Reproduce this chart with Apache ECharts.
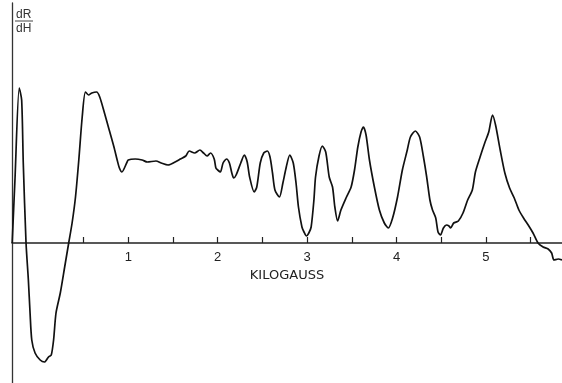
<!DOCTYPE html>
<html>
<head>
<meta charset="utf-8">
<script src="https://cdn.jsdelivr.net/npm/echarts@6/dist/echarts.min.js"></script>
<style>
    html, body { margin: 0; padding: 0; background: #fff; }
    #chart { width: 562px; height: 383px; }
</style>
</head>
<body>
<div id="chart"></div>
<script>
// field in kilogauss
var fieldKG = [
    -0.298, -0.267, -0.219, -0.192, -0.174, -0.143, -0.117, -0.098, -0.079, -0.042,
    0.015, 0.063, 0.108, 0.139, 0.165, 0.192, 0.240, 0.289, 0.334, 0.372,
    0.410, 0.447, 0.485, 0.521, 0.556, 0.593, 0.646, 0.681, 0.734, 0.787,
    0.840, 0.876, 0.901, 0.929, 0.982, 1.000, 1.078, 1.155, 1.213, 1.310,
    1.369, 1.445, 1.524, 1.583, 1.643, 1.682, 1.742, 1.801, 1.842, 1.881,
    1.920, 1.961, 1.980, 2.000, 2.030, 2.060, 2.099, 2.131, 2.158, 2.179,
    2.206, 2.258, 2.298, 2.330, 2.357, 2.408, 2.437, 2.476, 2.515, 2.555,
    2.585, 2.613, 2.640, 2.690, 2.729, 2.767, 2.806, 2.845, 2.876, 2.903,
    2.942, 2.965, 2.992, 3.019, 3.045, 3.076, 3.094, 3.133, 3.170, 3.208,
    3.247, 3.284, 3.310, 3.341, 3.378, 3.435, 3.492, 3.530, 3.567, 3.603,
    3.630, 3.659, 3.697, 3.752, 3.808, 3.863, 3.908, 3.956, 4.011, 4.065,
    4.120, 4.155, 4.210, 4.258, 4.301, 4.337, 4.373, 4.402, 4.438, 4.464,
    4.492, 4.524, 4.559, 4.586, 4.604, 4.639, 4.691, 4.743, 4.795, 4.847,
    4.882, 4.934, 4.986, 5.031, 5.073, 5.107, 5.159, 5.211, 5.264, 5.316,
    5.368, 5.420, 5.472, 5.526, 5.582, 5.639, 5.695, 5.734, 5.760, 5.808,
    5.850
];
// dR/dH, arbitrary units
var dRdH = [
    0, 6.3, 15.5, 14.3, 8.0, 0, -3.7, -7.0, -9.7, -11.0,
    -11.7, -11.9, -11.4, -11.2, -9.7, -7.0, -5.0, -2.4, 0, 2.0,
    4.6, 8.3, 12.6, 15.1, 14.8, 15.0, 15.1, 14.6, 13.0, 11.3,
    9.6, 8.3, 7.5, 7.1, 8.0, 8.3, 8.4, 8.3, 8.1, 8.2,
    8.0, 7.8, 8.1, 8.4, 8.7, 9.2, 9.0, 9.3, 9.0, 8.7,
    9.0, 8.4, 7.5, 7.3, 7.1, 8.0, 8.4, 8.0, 7.0, 6.5,
    6.8, 8.0, 8.8, 8.1, 6.6, 5.1, 5.6, 8.0, 9.0, 9.2,
    8.6, 7.0, 5.3, 4.6, 6.0, 7.6, 8.8, 8.0, 6.0, 3.6,
    1.6, 1.1, 0.7, 1.0, 1.6, 4.3, 6.6, 8.7, 9.7, 9.1,
    6.6, 5.6, 3.6, 2.2, 3.3, 4.5, 5.6, 7.3, 9.6, 11.1,
    11.6, 10.8, 8.3, 5.6, 3.3, 2.0, 1.5, 2.5, 4.6, 7.3,
    9.3, 10.6, 11.2, 10.6, 8.6, 6.6, 4.3, 3.3, 2.5, 1.1,
    0.8, 1.5, 1.8, 1.7, 1.5, 2.0, 2.2, 3.0, 4.3, 5.3,
    7.1, 8.6, 10.0, 11.1, 12.8, 11.8, 9.3, 7.0, 5.5, 4.5,
    3.3, 2.5, 1.8, 1.0, 0, -0.4, -0.6, -1.0, -1.7, -1.6,
    -1.7
];
var labelTicks = [1, 2, 3, 4, 5];
var allTicks = [0.5, 1, 1.5, 2, 2.5, 3, 3.5, 4, 4.5, 5, 5.5];

var points = [];
for (var i = 0; i < fieldKG.length; i++) {
    points.push([fieldKG[i], dRdH[i]]);
}

var kgMin = -0.3, kgMax = 5.85;

var myChart = echarts.init(document.getElementById('chart'));
var option = {
    backgroundColor: '#fff',
    animation: false,
    // grid 0 holds the trace, grid 1 only carries the field axis at dR/dH = 0
    grid: [
        { left: 12, right: 0, top: 3, bottom: 0, outerBoundsMode: 'none' },
        { left: 12, right: 0, top: 3, height: 240, outerBoundsMode: 'none' }
    ],
    graphic: [
        { type: 'text', left: 16, top: 9, style: { text: 'dR', font: '12px "Liberation Sans"', fill: '#333' } },
        { type: 'line', shape: { x1: 15, y1: 21, x2: 33, y2: 21 }, style: { stroke: '#444', lineWidth: 1 } },
        { type: 'text', left: 16, top: 23, style: { text: 'dH', font: '12px "Liberation Sans"', fill: '#333' } }
    ],
    xAxis: [
        {
            gridIndex: 0,
            type: 'value',
            min: kgMin,
            max: kgMax,
            show: false
        },
        {
            gridIndex: 1,
            type: 'value',
            min: kgMin,
            max: kgMax,
            position: 'bottom',
            name: 'KILOGAUSS',
            nameLocation: 'middle',
            nameGap: 21,
            nameTextStyle: { fontFamily: 'DejaVu Sans', fontSize: 13, color: '#222' },
            axisLine: { onZero: false, lineStyle: { color: '#222', width: 1.5 } },
            axisTick: { show: true, inside: true, length: 6, customValues: allTicks, lineStyle: { color: '#222', width: 1.2 } },
            axisLabel: { show: true, customValues: labelTicks, margin: 8, fontFamily: 'Liberation Sans', fontSize: 13, color: '#222' },
            splitLine: { show: false }
        }
    ],
    yAxis: [
        {
            gridIndex: 0,
            type: 'value',
            min: -14,
            max: 24,
            axisLine: { show: true, onZero: false, lineStyle: { color: '#333', width: 1.3 } },
            axisTick: { show: false },
            axisLabel: { show: false },
            splitLine: { show: false }
        },
        {
            gridIndex: 1,
            type: 'value',
            min: 0,
            max: 24,
            show: false
        }
    ],
    series: [
        {
            type: 'line',
            xAxisIndex: 0,
            yAxisIndex: 0,
            data: points,
            showSymbol: false,
            symbol: 'none',
            smooth: 0.25,
            lineStyle: { color: '#111', width: 1.7 }
        }
    ]
};
myChart.setOption(option);
</script>
</body>
</html>
